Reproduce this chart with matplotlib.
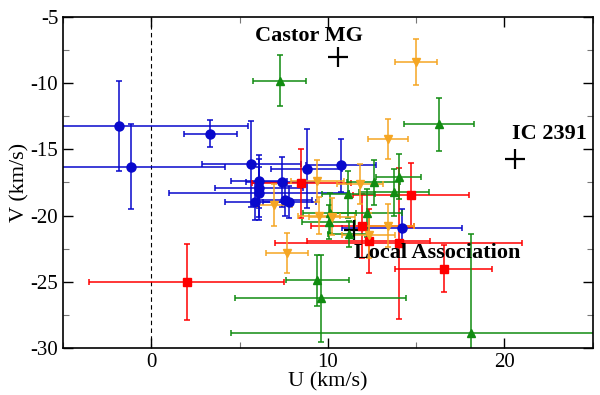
import numpy as np
import matplotlib.pyplot as plt
from matplotlib.ticker import MultipleLocator

plt.rcParams['font.family'] = ['Liberation Serif', 'DejaVu Serif']
plt.rcParams['axes.unicode_minus'] = False

# blue circles
blue_u = [-1.85, -1.13, 3.34, 5.67, 10.75, 8.8, 6.1, 6.1, 6.1, 5.86, 7.38, 7.58, 7.8, 14.2]
blue_v = [-13.2, -16.3, -13.8, -16.1, -16.2, -16.45, -17.4, -17.9, -18.3, -18.95, -17.45, -18.8, -18.95, -20.9]
blue_ue = [7.3, 5.3, 1.5, 2.8, 2.0, 2.0, 1.6, 2.5, 5.1, 1.7, 2.0, 1.5, 1.5, 3.4]
blue_ve = [3.4, 3.2, 1.0, 3.25, 2.0, 3.0, 2.0, 2.2, 2.0, 1.4, 1.9, 1.2, 1.2, 1.4]

# red squares
red_u = [2.0, 8.5, 14.7, 11.95, 12.3, 14.0, 16.55]
red_v = [-25.0, -17.55, -18.45, -20.8, -21.9, -22.1, -24.0]
red_ue = [5.5, 2.8, 3.3, 2.9, 3.5, 7.0, 2.75]
red_ve = [2.85, 2.6, 2.4, 2.4, 2.4, 5.7, 1.8]

# green triangles
green_u = [7.27, 16.3, 9.4, 9.6, 18.1, 11.15, 12.6, 13.75, 14.0, 10.1, 12.2, 10.05, 11.2]
green_v = [-9.8, -13.1, -24.9, -26.25, -28.9, -18.4, -17.5, -18.25, -17.05, -19.8, -19.8, -20.5, -21.4]
green_ue = [1.5, 2.0, 1.8, 4.85, 13.6, 1.5, 1.5, 2.0, 1.3, 1.5, 2.0, 1.5, 1.2]
green_ve = [1.9, 2.0, 1.9, 3.3, 7.5, 1.8, 1.7, 1.8, 1.7, 1.5, 1.8, 1.3, 1.0]

# orange triangles down
orange_u = [15.0, 13.4, 7.67, 6.97, 9.4, 11.8, 9.5, 10.25, 13.4, 12.3]
orange_v = [-8.4, -14.2, -22.8, -19.2, -17.4, -17.6, -20.0, -20.1, -20.75, -21.5]
orange_ue = [1.2, 1.15, 1.2, 1.0, 1.5, 1.3, 1.2, 1.3, 1.5, 1.5]
orange_ve = [1.7, 1.5, 1.5, 1.6, 1.6, 1.5, 1.4, 1.4, 1.6, 1.7]

groups = ['Castor MG', 'IC 2391', 'Local Association']
group_u = [10.6, 20.6, 11.5]
group_v = [-8.0, -15.7, -21.1]
label_u = [5.85, 20.4, 11.5]
label_v = [-6.45, -13.8, -22.8]

fig = plt.figure(figsize=(6, 3.95), dpi=100)
ax = fig.add_axes([0.105, 0.119, 0.883, 0.838])

ax.axvline(0, color='k', ls='--', lw=0.8, dashes=(4, 3))

series = [
    (blue_u, blue_v, blue_ue, blue_ve, '#0808cc', 'o', 6.5),
    (red_u, red_v, red_ue, red_ve, '#ff0000', 's', 6),
    (green_u, green_v, green_ue, green_ve, '#118c11', '^', 5.5),
    (orange_u, orange_v, orange_ue, orange_ve, '#f5a623', 'v', 5.5),
]
for u, v, ue, ve, c, m, ms in series:
    ax.errorbar(u, v, xerr=ue, yerr=ve, fmt=m, color=c, ms=ms, mec=c,
                elinewidth=1.1, capsize=2.5, capthick=1.1)

ax.plot(group_u, group_v, '+', color='k', ms=15, mew=1.6)
for name, x, y in zip(groups, label_u, label_v):
    ax.text(x, y, name, fontsize=16, fontweight='bold', ha='left', va='center')

ax.set_xlim(-5, 25)
ax.set_ylim(-30, -5)
ax.xaxis.set_major_locator(MultipleLocator(10))
ax.xaxis.set_minor_locator(MultipleLocator(5))
ax.yaxis.set_major_locator(MultipleLocator(5))
ax.yaxis.set_minor_locator(MultipleLocator(2.5))
ax.tick_params(which='both', direction='in', top=True, right=True, labelsize=15)
ax.tick_params(which='major', length=7, width=1)
ax.tick_params(which='minor', length=4, width=0.8, color='#777777')
ax.set_xlabel('U (km/s)', fontsize=16, labelpad=0)
ax.set_ylabel('V (km/s)', fontsize=16, labelpad=1)
for s in ax.spines.values():
    s.set_linewidth(1.2)

fig.savefig('out.png', dpi=100)
